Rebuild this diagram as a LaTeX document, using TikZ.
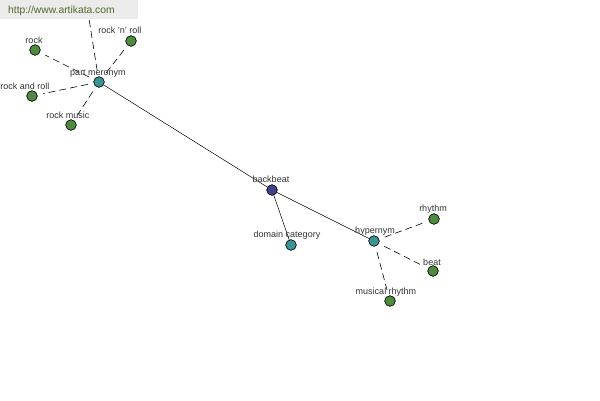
\documentclass[tikz,border=0pt]{standalone}
\usepackage{fontspec}
\setmainfont{Liberation Sans}
\definecolor{leafgreen}{HTML}{4E8B3E}
\definecolor{tealnode}{HTML}{3A9494}
\definecolor{centerblue}{HTML}{3E428C}
\definecolor{hdrgray}{HTML}{EBEBEB}
\definecolor{hdrtext}{HTML}{4F6A28}
\definecolor{lbl}{HTML}{333333}
\tikzset{
  dot/.style={circle,draw=black,line width=0.5pt,minimum size=10.5pt,inner sep=0pt},
  leaf/.style={dot,fill=leafgreen},
  rel/.style={dot,fill=tealnode},
  hub/.style={dot,fill=centerblue},
  lab/.style={font=\fontsize{9}{10}\selectfont,text=lbl,inner sep=0pt},
  solidedge/.style={draw=black,line width=0.5pt},
  dashedge/.style={draw=black,line width=0.6pt,dash pattern=on 7pt off 4pt,shorten <=6pt,shorten >=6pt}
}
\begin{document}
\begin{tikzpicture}[x=1pt,y=-1pt]
\useasboundingbox (0,0) rectangle (600,400);
\fill[white] (0,0) rectangle (600,400);
% nodes
\node[rel] (pm) at (99,82) {};
\node[leaf] (rock) at (35,50) {};
\node[leaf] (rnr) at (131,41) {};
\node[leaf] (rar) at (32,96) {};
\node[leaf] (rm) at (71,125) {};
\node[hub] (bb) at (272,190) {};
\node[rel] (dc) at (291,245) {};
\node[rel] (hy) at (374,241) {};
\node[leaf] (rh) at (434,219) {};
\node[leaf] (beat) at (433,271) {};
\node[leaf] (mr) at (390,301) {};
\coordinate (top) at (86,0);
% edges
\draw[solidedge] (bb) -- (pm);
\draw[solidedge] (bb) -- (dc);
\draw[solidedge] (bb) -- (hy);
\draw[dashedge] (pm) -- (rock);
\draw[dashedge] (pm) -- (rnr);
\draw[dashedge] (pm) -- (rar);
\draw[dashedge] (pm) -- (rm);
\draw[dashedge,shorten >=0pt] (pm) -- (top);
\draw[dashedge] (hy) -- (rh);
\draw[dashedge] (hy) -- (beat);
\draw[dashedge] (hy) -- (mr);
% redraw nodes on top
\foreach \n/\s in {pm/rel,rock/leaf,rnr/leaf,rar/leaf,rm/leaf,bb/hub,dc/rel,hy/rel,rh/leaf,beat/leaf,mr/leaf}{\node[\s] at (\n) {};}
% labels
\node[lab] (lpm) at (98,73.5) {part meronym};
\node[lab] (lrock) at (34,40.5) {rock};
\node[lab] (lrnr) at (120,30.5) {rock 'n' roll};
\node[lab] (lrar) at (25,86.5) {rock and roll};
\node[lab] (lrm) at (68,115.5) {rock music};
\node[lab] (lbb) at (271,179.5) {backbeat};
\node[lab] (ldc) at (287,235.5) {domain category};
\node[lab] (lhy) at (375,231.5) {hypernym};
\node[lab] (lrh) at (433,209.5) {rhythm};
\node[lab] (lbeat) at (432,262.5) {beat};
\node[lab] (lmr) at (386,292.5) {musical rhythm};
% header
\fill[hdrgray] (0,0) rectangle (138,19);
\node[font=\fontsize{10.3}{11}\selectfont,text=hdrtext,anchor=west,inner sep=0pt] (hdr) at (8,11) {http://www.artikata.com};
\end{tikzpicture}
\end{document}
